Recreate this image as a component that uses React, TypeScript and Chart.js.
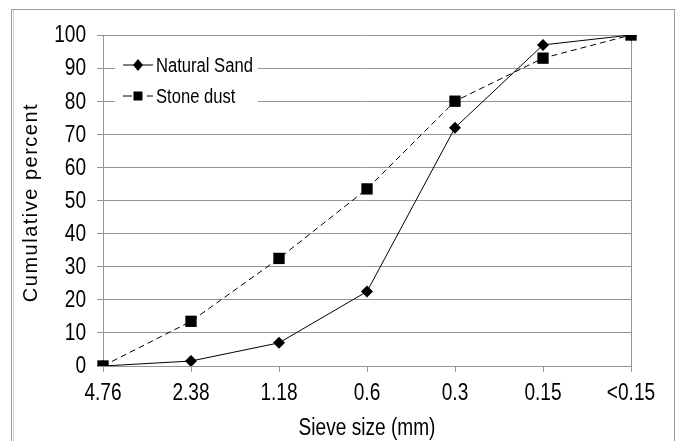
import React, { useEffect, useRef } from 'react';
import { Chart, registerables } from 'chart.js';

Chart.register(...registerables);

const categories = ['4.76', '2.38', '1.18', '0.6', '0.3', '0.15', '<0.15'];
const naturalSand = [0, 1.5, 7, 22.5, 72, 97, 100];
const stoneDust = [0, 13.5, 32.5, 53.5, 80, 93, 100];
const seriesNames = ['Natural Sand', 'Stone dust'];
const yMin = 0;
const yMax = 100;
const yStep = 10;
const xTitle = 'Sieve size (mm)';
const yTitle = 'Cumulative percent';

const FONT = "'Liberation Sans', Arial, sans-serif";
const NARROW_SCALE = 0.83;
const GRID = '#959595';

function narrowText(ctx: any, text: string, x: number, y: number, size: number, align: string) {
  ctx.save();
  ctx.translate(x, y);
  ctx.scale(NARROW_SCALE, 1);
  ctx.font = `${size}px ${FONT}`;
  ctx.fillStyle = '#000';
  ctx.textAlign = align;
  ctx.textBaseline = 'middle';
  ctx.fillText(text, 0, 0);
  ctx.restore();
}

const framePlugin = {
  id: 'frame',
  beforeDraw(chart: any) {
    const ctx = chart.ctx;
    ctx.save();
    ctx.fillStyle = '#ffffff';
    ctx.fillRect(0, 0, chart.width, chart.height);
    ctx.strokeStyle = '#9a9a9a';
    ctx.lineWidth = 1;
    ctx.strokeRect(11.5, 9.5, 663, 445);
    ctx.strokeStyle = '#d0d0d0';
    ctx.beginPath();
    ctx.moveTo(13.5, 10);
    ctx.lineTo(13.5, 441);
    ctx.stroke();
    ctx.restore();
  },
};

const overlayPlugin = {
  id: 'overlay',
  afterDraw(chart: any) {
    const ctx = chart.ctx;
    const area = chart.chartArea;
    const xs = chart.scales.x;
    const ys = chart.scales.y;

    // tick labels (Arial-Narrow-like)
    ys.ticks.forEach((t: any) => {
      narrowText(ctx, String(t.value), area.left - 17, ys.getPixelForValue(t.value) + 1, 23, 'right');
    });
    categories.forEach((c, i) => {
      narrowText(ctx, c, xs.getPixelForValue(i), area.bottom + 28, 23, 'center');
    });
    narrowText(ctx, xTitle, (area.left + area.right) / 2, area.bottom + 63, 23, 'center');

    // Y axis title with letter spacing
    ctx.save();
    ctx.translate(31, (area.top + area.bottom) / 2 + 2);
    ctx.rotate(-Math.PI / 2);
    ctx.font = `20px ${FONT}`;
    try { (ctx as any).letterSpacing = '1.5px'; } catch (e) {}
    ctx.fillStyle = '#000';
    ctx.textAlign = 'center';
    ctx.textBaseline = 'middle';
    ctx.fillText(yTitle, 0, 0);
    ctx.restore();

    // Legend inside plot
    ctx.save();
    const bx = area.left + 12;
    const by = area.top + 15;
    ctx.fillStyle = '#ffffff';
    ctx.fillRect(bx, by, 143, 64);
    ctx.strokeStyle = '#000';
    ctx.fillStyle = '#000';
    ctx.lineWidth = 1;
    const y1 = by + 15;
    const y2 = by + 46;
    const x0 = bx + 8;
    const xm = bx + 23;
    const x1 = bx + 38;
    ctx.beginPath();
    ctx.moveTo(x0, y1);
    ctx.lineTo(x1, y1);
    ctx.stroke();
    ctx.beginPath();
    ctx.moveTo(xm, y1 - 6);
    ctx.lineTo(xm + 5, y1);
    ctx.lineTo(xm, y1 + 6);
    ctx.lineTo(xm - 5, y1);
    ctx.closePath();
    ctx.fill();
    ctx.beginPath();
    ctx.moveTo(x0, y2);
    ctx.lineTo(x0 + 9, y2);
    ctx.moveTo(x1 - 6, y2);
    ctx.lineTo(x1, y2);
    ctx.stroke();
    ctx.fillRect(xm - 4.5, y2 - 4.5, 9, 9);
    ctx.restore();
    narrowText(ctx, seriesNames[0], x1 + 3, y1 + 1, 20, 'left');
    narrowText(ctx, seriesNames[1], x1 + 3, y2 + 1, 20, 'left');
  },
};

export default function App() {
  const canvasRef = useRef<HTMLCanvasElement | null>(null);

  useEffect(() => {
    document.body.style.margin = '0';
    const canvas = canvasRef.current;
    if (!canvas) return;
    const chart = new Chart(canvas, {
      type: 'line',
      data: {
        labels: categories,
        datasets: [
          {
            label: seriesNames[0],
            data: naturalSand,
            borderColor: '#000',
            backgroundColor: '#000',
            borderWidth: 1,
            pointStyle: 'rectRot',
            pointRadius: 6,
            pointBorderWidth: 0,
            pointBackgroundColor: '#000',
            tension: 0,
            order: 1,
          },
          {
            label: seriesNames[1],
            data: stoneDust,
            borderColor: '#000',
            backgroundColor: '#000',
            borderWidth: 1,
            borderDash: [6, 4],
            pointStyle: 'rect',
            pointRadius: 8,
            pointBorderWidth: 0,
            pointBackgroundColor: '#000',
            tension: 0,
            order: 0,
          },
        ],
      },
      options: {
        responsive: false,
        animation: false,
        devicePixelRatio: 1,
        layout: { padding: { top: 35, right: 47, left: 0, bottom: 0 } },
        plugins: {
          legend: { display: false },
          tooltip: { enabled: false },
        },
        scales: {
          x: {
            offset: false,
            afterFit: (s: any) => { s.height = 75; },
            grid: {
              drawOnChartArea: true,
              color: (c: any) => (c.index === categories.length - 1 ? GRID : 'rgba(0,0,0,0)'),
              tickColor: GRID,
              tickLength: 6,
              lineWidth: 1,
            },
            border: { display: true, color: GRID, width: 1 },
            ticks: { display: false, autoSkip: false, maxRotation: 0 },
          },
          y: {
            min: yMin,
            max: yMax,
            afterFit: (s: any) => { s.width = 103; },
            grid: {
              color: GRID,
              tickColor: GRID,
              tickLength: 6,
              lineWidth: 1,
            },
            border: { display: true, color: GRID, width: 1 },
            ticks: { display: false, stepSize: yStep },
          },
        },
      },
      plugins: [framePlugin, overlayPlugin],
    });
    return () => chart.destroy();
  }, []);

  return (
    <div style={{ width: 678, height: 441, position: 'relative' }}>
      <canvas ref={canvasRef} width={678} height={441} style={{ display: 'block' }} />
    </div>
  );
}
